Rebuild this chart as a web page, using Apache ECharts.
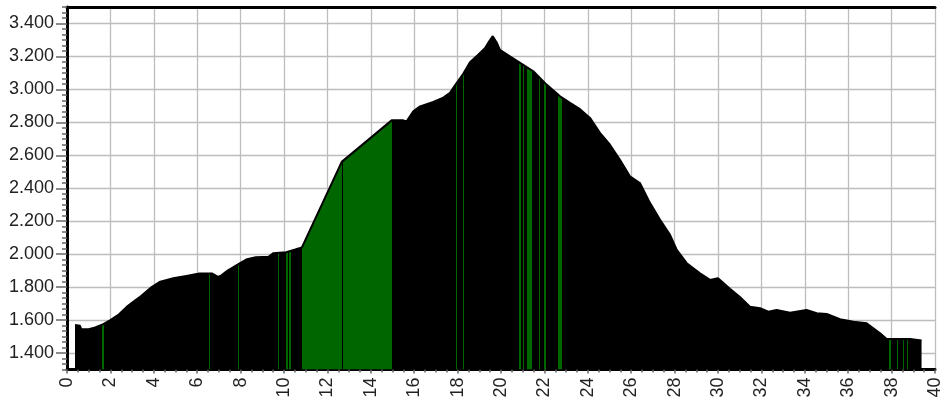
<!DOCTYPE html>
<html><head><meta charset="utf-8">
<script src="https://cdn.jsdelivr.net/npm/echarts@6/dist/echarts.min.js"></script>
<style>html,body{margin:0;padding:0;background:#fff}#c{width:941px;height:408px}</style>
</head><body><div id="c"></div>
<script>
// distance along route (km)
const distKm = [0.37,0.6,0.65,1.0,1.3,1.67,2.0,2.4,2.75,3.1,3.4,3.9,4.3,4.9,5.5,6.1,6.7,6.95,7.1,7.4,7.9,8.3,8.7,9.3,9.5,10.1,10.45,10.82,
  12.66,14.96,15.5,15.65,15.96,16.27,16.88,17.34,17.65,17.88,18.26,18.57,18.95,19.26,19.45,19.62,19.8,19.95,20.41,20.88,21.49,22.1,22.72,
  23.18,23.64,24.1,24.56,25.02,25.48,25.94,26.4,26.87,27.33,27.79,28.1,28.56,29.17,29.63,30.0,30.55,31.01,31.47,31.94,32.32,32.7,33.32,
  34.08,34.55,35.01,35.62,36.24,36.85,37.16,37.47,37.77,38.85,38.9,39.38];
// elevation (m)
const elevM = [1570,1565,1545,1545,1555,1575,1600,1635,1680,1715,1745,1800,1833,1854,1868,1882,1882,1862,1870,1900,1940,1970,1982,1985,2005,2012,2026,2040,
  2560,2812,2812,2806,2867,2897,2924,2950,2979,3025,3095,3165,3210,3250,3290,3323,3285,3240,3201,3161,3110,3029,2958,
  2918,2880,2827,2736,2664,2573,2472,2432,2310,2209,2117,2026,1945,1884,1844,1854,1790,1740,1681,1672,1651,1661,1645,
  1661,1641,1637,1605,1590,1580,1550,1520,1485,1485,1476,1476];
// green (highlighted) stretches, km
const greenStart = [1.63,6.53,7.87,9.71,10.11,10.24,10.82,12.72,17.91,18.23,20.85,21.00,21.20,21.75,22.00,22.62,37.90,38.24,38.51,38.69];
const greenEnd   = [1.69,6.59,7.93,9.77,10.17,10.30,12.66,14.96,17.97,18.29,20.91,21.06,21.41,21.81,22.06,22.80,37.96,38.30,38.57,38.75];
// labelled elevation ticks (m)
const yLabelValues = [1400,1600,1800,2000,2200,2400,2600,2800,3000,3200,3400];

const data = distKm.map((d, i) => [d, elevM[i]]);
const pieces = greenStart.map((s, i) => ({ gte: s, lt: greenEnd[i], color: '#006600' }));
const fmt = v => String(v).replace(/\B(?=(\d{3})+(?!\d))/g, '.');
const FONT = 'Liberation Sans';

const chart = echarts.init(document.getElementById('c'), null, { renderer: 'canvas' });
chart.setOption({
  animation: false,
  backgroundColor: '#fff',
  grid: { left: 67, right: 6, top: 7, bottom: 38.5, containLabel: false, outerBoundsMode: 'none' },
  visualMap: {
    type: 'piecewise', show: false, dimension: 0, seriesIndex: 0,
    pieces: pieces, outOfRange: { color: '#000' }
  },
  xAxis: [{
    type: 'value', min: 0, max: 40, interval: 2,
    axisLine: { onZero: false, lineStyle: { color: '#000', width: 3 } },
    axisTick: { show: true, length: 4, lineStyle: { color: '#666', width: 1.5 } },
    minorTick: { show: true, splitNumber: 4, length: 3, lineStyle: { color: '#666', width: 1.5 } },
    splitLine: { show: true, lineStyle: { color: '#bdbdbd', width: 1.3 } },
    axisLabel: { rotate: 90, fontSize: 18, margin: 8, color: '#222', fontFamily: FONT }
  }, {
    type: 'value', position: 'top', min: 0, max: 40,
    axisLine: { show: true, onZero: false, lineStyle: { color: '#000', width: 3 } },
    axisTick: { show: false }, axisLabel: { show: false }, splitLine: { show: false }
  }],
  yAxis: [{
    type: 'value', min: 1300, max: 3500, interval: 100,
    axisLine: { show: true, onZero: false, lineStyle: { color: '#000', width: 3 } },
    axisTick: { show: true, customValues: yLabelValues, length: 11, lineStyle: { color: '#666', width: 1.5 } },
    axisLabel: { customValues: yLabelValues, formatter: fmt, fontSize: 18, margin: 13, color: '#222', fontFamily: FONT },
    splitLine: { show: true, lineStyle: { color: '#bdbdbd', width: 1.3 } }
  }, {
    type: 'value', position: 'left', min: 1300, max: 3500, interval: 100,
    axisLine: { show: false },
    axisTick: { show: true, length: 5, lineStyle: { color: '#666', width: 1.5 } },
    minorTick: { show: true, splitNumber: 3, length: 5, lineStyle: { color: '#666', width: 1.5 } },
    axisLabel: { show: false }, splitLine: { show: false }
  }],
  series: [{
    type: 'line', data: data, symbol: 'none', z: 3,
    lineStyle: { width: 0 }, areaStyle: { opacity: 1 }
  }, {
    type: 'line', data: data, symbol: 'none', z: 4,
    lineStyle: { color: '#000', width: 2 }
  }]
});
</script></body></html>
